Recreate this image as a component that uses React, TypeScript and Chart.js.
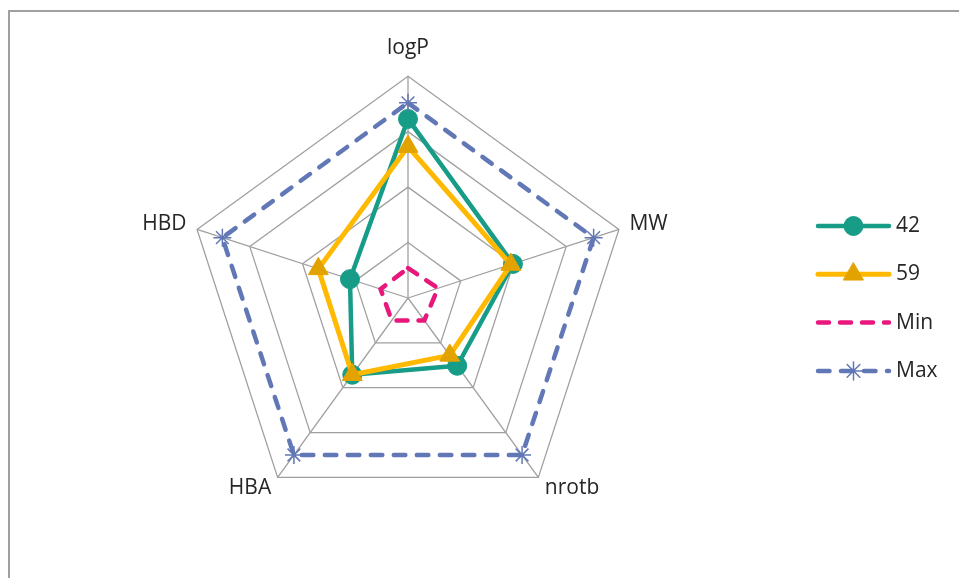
import React, { useEffect, useRef } from 'react';
import { Chart, registerables } from 'chart.js';
import { drawPoint } from 'chart.js/helpers';

Chart.register(...registerables);

const categories = ['logP', 'MW', 'nrotb', 'HBA', 'HBD'];
const seriesNames = ['42', '59', 'Min', 'Max'];
const values42 = [3.23, 1.99, 1.51, 1.71, 1.1];
const values59 = [2.73, 1.95, 1.28, 1.71, 1.7];
const valuesMin = [0.54, 0.57, 0.5, 0.5, 0.52];
const valuesMax = [3.52, 3.52, 3.5, 3.5, 3.52];
const axisMin = 0;
const axisMax = 4;
const axisStep = 1;
const labelPadding = [26, 11, 11, 11, 11];

const FONT = '"Open Sans", "Noto Sans", sans-serif';
const TEXT = '#262626';
const GRID = '#A0A0A0';

const borderPlugin = {
  id: 'frameBorder',
  beforeDraw(chart: any) {
    const ctx = chart.ctx;
    ctx.save();
    ctx.strokeStyle = '#A0A0A0';
    ctx.lineWidth = 2;
    ctx.beginPath();
    ctx.moveTo(9, 600);
    ctx.lineTo(9, 11);
    ctx.lineTo(1000, 11);
    ctx.stroke();
    ctx.restore();
  },
};

const legendPlugin = {
  id: 'sideLegend',
  afterDraw(chart: any) {
    const ctx = chart.ctx;
    const x0 = 818;
    const x1 = 889;
    const tx = 896;
    const y0 = 226;
    const dy = 48.3;
    chart.data.datasets.forEach((ds: any, i: number) => {
      const y = y0 + i * dy;
      ctx.save();
      ctx.strokeStyle = ds.borderColor;
      ctx.lineWidth = ds.borderWidth;
      ctx.setLineDash(ds.borderDash || []);
      ctx.lineCap = ds.borderCapStyle || 'butt';
      ctx.beginPath();
      ctx.moveTo(x0, y);
      ctx.lineTo(x1, y);
      ctx.stroke();
      ctx.setLineDash([]);
      if (ds.pointRadius > 0) {
        ctx.fillStyle = ds.pointBackgroundColor;
        ctx.strokeStyle = ds.pointBorderColor;
        ctx.lineWidth = ds.pointBorderWidth;
        drawPoint(
          ctx,
          { pointStyle: ds.pointStyle, rotation: 0, radius: ds.pointRadius, borderWidth: ds.pointBorderWidth } as any,
          (x0 + x1) / 2,
          y
        );
      }
      ctx.fillStyle = TEXT;
      ctx.font = `21px ${FONT}`;
      ctx.textBaseline = 'middle';
      ctx.textAlign = 'left';
      ctx.fillText(ds.label, tx, y);
      ctx.restore();
    });
  },
};

export default function App() {
  const ref = useRef<HTMLCanvasElement | null>(null);

  useEffect(() => {
    if (!ref.current) return;
    const chart = new Chart(ref.current, {
      type: 'radar',
      data: {
        labels: categories,
        datasets: [
          {
            label: seriesNames[0],
            data: values42,
            borderColor: '#179C88',
            borderWidth: 4.5,
            borderCapStyle: 'round',
            borderJoinStyle: 'round',
            pointStyle: 'circle',
            pointRadius: 9.5,
            pointBackgroundColor: '#179C88',
            pointBorderColor: '#179C88',
            pointBorderWidth: 1,
            fill: false,
            order: 4,
          },
          {
            label: seriesNames[1],
            data: values59,
            borderColor: '#FFB900',
            borderWidth: 5,
            borderCapStyle: 'round',
            borderJoinStyle: 'round',
            pointStyle: 'triangle',
            pointRadius: 11.5,
            pointBackgroundColor: '#E2A300',
            pointBorderColor: '#E2A300',
            pointBorderWidth: 1,
            fill: false,
            order: 3,
          },
          {
            label: seriesNames[2],
            data: valuesMin,
            borderColor: '#E8177C',
            borderWidth: 4.5,
            borderDash: [11, 11],
            borderCapStyle: 'round',
            pointRadius: 0,
            fill: false,
            order: 2,
          },
          {
            label: seriesNames[3],
            data: valuesMax,
            borderColor: '#6277B5',
            borderWidth: 4.5,
            borderDash: [11.5, 11.5],
            borderCapStyle: 'round',
            pointStyle: 'star',
            pointRadius: 9,
            pointBackgroundColor: '#6277B5',
            pointBorderColor: '#6277B5',
            pointBorderWidth: 1.5,
            fill: false,
            order: 1,
          },
        ] as any,
      },
      options: {
        responsive: false,
        animation: false,
        layout: { padding: { left: 108, right: 251, top: 31, bottom: 43 } },
        plugins: { legend: { display: false }, tooltip: { enabled: false } },
        elements: { line: { tension: 0 } },
        scales: {
          r: {
            min: axisMin,
            max: axisMax,
            ticks: { stepSize: axisStep, display: false },
            grid: { color: GRID, lineWidth: 1.3 },
            angleLines: { color: GRID, lineWidth: 1.3 },
            pointLabels: {
              font: { family: FONT, size: 21, lineHeight: 0.2 },
              color: TEXT,
              padding: (c: any) => labelPadding[c.index],
            },
          },
        },
      } as any,
      plugins: [borderPlugin, legendPlugin],
    });
    return () => chart.destroy();
  }, []);

  return (
    <div style={{ position: 'absolute', left: 0, top: 0, width: 959, height: 578, background: '#fff' }}>
      <canvas ref={ref} width={959} height={578} style={{ display: 'block' }} />
    </div>
  );
}
